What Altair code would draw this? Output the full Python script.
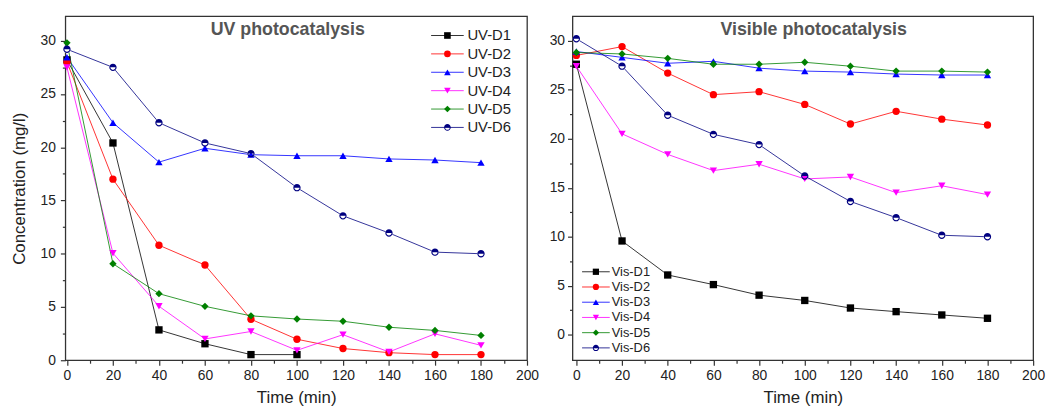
import altair as alt
import pandas as pd

# ---------------- data ----------------
times = [0, 20, 40, 60, 80, 100, 120, 140, 160, 180]

uv_names = ["UV-D1", "UV-D2", "UV-D3", "UV-D4", "UV-D5", "UV-D6"]
uv_d1 = [28.2, 20.4, 2.85, 1.55, 0.53, 0.53]
uv_d2 = [28.0, 17.0, 10.8, 8.94, 3.85, 1.97, 1.1, 0.71, 0.53, 0.53]
uv_d3 = [28.45, 22.3, 18.6, 19.9, 19.3, 19.2, 19.2, 18.9, 18.8, 18.55]
uv_d4 = [27.5, 10.05, 5.07, 2.0, 2.7, 0.93, 2.4, 0.78, 2.48, 1.4]
uv_d5 = [29.8, 9.06, 6.25, 5.06, 4.17, 3.87, 3.66, 3.1, 2.8, 2.33]
uv_d6 = [29.2, 27.5, 22.3, 20.4, 19.4, 16.2, 13.56, 11.95, 10.15, 10.0]

vis_names = ["Vis-D1", "Vis-D2", "Vis-D3", "Vis-D4", "Vis-D5", "Vis-D6"]
vis_d1 = [27.6, 9.57, 6.1, 5.12, 4.04, 3.5, 2.73, 2.36, 2.02, 1.68]
vis_d2 = [28.5, 29.4, 26.7, 24.5, 24.8, 23.5, 21.5, 22.8, 22.0, 21.4]
vis_d3 = [28.9, 28.3, 27.7, 27.9, 27.2, 26.9, 26.8, 26.6, 26.5, 26.5]
vis_d4 = [27.4, 20.5, 18.4, 16.75, 17.4, 15.9, 16.1, 14.5, 15.2, 14.3]
vis_d5 = [28.8, 28.65, 28.2, 27.6, 27.6, 27.8, 27.4, 26.9, 26.9, 26.8]
vis_d6 = [30.2, 27.4, 22.4, 20.45, 19.4, 16.2, 13.6, 11.95, 10.15, 10.0]

x_ticks = [0, 20, 40, 60, 80, 100, 120, 140, 160, 180, 200]
x_minor = [10, 30, 50, 70, 90, 110, 130, 150, 170, 190]
y_ticks = [0, 5, 10, 15, 20, 25, 30]
y_minor = [2.5, 7.5, 12.5, 17.5, 22.5, 27.5]

colors = ["#000000", "#ff0000", "#0000ff", "#ff00ff", "#008000", "#000080"]
half_circle = ("M-1,0A1,1,0,1,1,1,0A1,1,0,1,1,-1,0Z"
               "M-0.7,0A0.7,0.7,0,1,0,0.7,0A0.7,0.7,0,1,0,-0.7,0Z"
               "M-0.7,0A0.7,0.7,0,0,1,0.7,0Z")
shapes = ["square", "circle", "triangle-up", "triangle-down", "diamond", half_circle]


def make_df(names, series):
    rows = []
    for name, vals in zip(names, series):
        for t, v in zip(times, vals):
            rows.append({"time": t, "conc": v, "series": name, "series_l": name})
    return pd.DataFrame(rows)


FONT = "Liberation Sans"


def panel(df, names, title, title_dx, xdom, ydom, ytitle, label_pad, leg, width):
    xs = alt.Scale(domain=xdom, nice=False, zero=False)
    ys = alt.Scale(domain=ydom, nice=False, zero=False)
    x_major = alt.X("time:Q", scale=xs,
                    axis=alt.Axis(values=x_ticks, title="Time (min)", tickSize=5,
                                  labelPadding=3, titlePadding=8, orient="bottom",
                                  labelFlush=False))
    y_major = alt.Y("conc:Q", scale=ys,
                    axis=alt.Axis(values=y_ticks, title=ytitle, tickSize=5,
                                  labelPadding=label_pad, titlePadding=12, orient="left",
                                  labelFlush=False))
    x_none = alt.X("time:Q", scale=xs, axis=None)
    y_none = alt.Y("conc:Q", scale=ys, axis=None)
    base = alt.Chart(df)

    half = leg["len"] / 2.0 / (leg["ss"] ** 0.5 / 2.0)
    line_path = "M-%.3f,0H%.3f" % (half, half)
    lines = base.mark_line(strokeWidth=1, opacity=0.8).encode(
        x=x_major, y=y_major,
        stroke=alt.Stroke("series_l:N", scale=alt.Scale(range=colors),
                          legend=alt.Legend(orient="none", legendX=leg["x"], legendY=leg["y"],
                                            title=None, symbolType=line_path,
                                            symbolSize=leg["ss"], symbolStrokeWidth=1,
                                            labelFont=FONT, labelFontSize=leg["fs"],
                                            labelColor="transparent", labelOffset=leg["lo"],
                                            rowPadding=leg["rp"], padding=0)),
    )
    whites = base.transform_filter(alt.datum.series == names[5]).mark_point(
        filled=True, shape="circle", size=55, opacity=1).encode(
        x=x_none, y=y_none, fill=alt.value("white"))
    shape_leg = alt.Legend(orient="none", legendX=leg["x"], legendY=leg["y"], title=None,
                           symbolSize=leg["ss"], labelFont=FONT, labelFontSize=leg["fs"],
                           labelColor="#222222", labelOffset=leg["lo"], rowPadding=leg["rp"],
                           padding=0)
    points = base.mark_point(filled=True, size=55, opacity=1).encode(
        x=x_none, y=y_none,
        fill=alt.Fill("series:N", scale=alt.Scale(domain=names, range=colors), legend=shape_leg),
        shape=alt.Shape("series:N", scale=alt.Scale(domain=names, range=shapes), legend=shape_leg),
    )
    minor = base.mark_point(opacity=0).encode(
        x=alt.X("time:Q", scale=xs,
                axis=alt.Axis(values=x_minor, orient="bottom", labels=False, domain=False,
                              tickSize=3, title=None)),
        y=alt.Y("conc:Q", scale=ys,
                axis=alt.Axis(values=y_minor, orient="left", labels=False, domain=False,
                              tickSize=3, title=None)),
    )
    return alt.layer(lines, whites, points, minor).resolve_axis(
        x="independent", y="independent").properties(
        width=width, height=348,
        title=alt.TitleParams(text=title, font=FONT, fontSize=18, fontWeight="bold",
                              color="#555555", anchor="middle", offset=-23,
                              baseline="top", dx=title_dx))


left = panel(make_df(uv_names, [uv_d1, uv_d2, uv_d3, uv_d4, uv_d5, uv_d6]), uv_names,
             "UV photocatalysis", -8.5, [-0.7, 200], [0, 32.3], "Concentration (mg/l)", 5,
             {"x": 379, "y": 12, "len": 33, "fs": 15, "lo": 12.7, "rp": 2.6, "ss": 45}, 467)
right = panel(make_df(vis_names, [vis_d1, vis_d2, vis_d3, vis_d4, vis_d5, vis_d6]), vis_names,
              "Visible photocatalysis", 11, [-1.7, 200], [-2.6, 32.5], None, 3,
              {"x": 17.2, "y": 252, "len": 28, "fs": 13, "lo": 9.5, "rp": 1.4, "ss": 40}, 466)

chart = alt.hconcat(left, right, spacing=8).resolve_scale(
    x="independent", y="independent", stroke="independent", fill="independent",
    shape="independent").resolve_legend(
    stroke="independent", fill="independent", shape="independent").properties(
    padding={"left": 1, "top": 5, "right": 0, "bottom": 0}).configure_view(
    stroke="#333333", strokeWidth=1.3).configure_axis(
    labelFont=FONT, labelFontSize=14, labelColor="#222222", titleFont=FONT,
    titleFontSize=17, titleFontWeight="normal", titleColor="#222222", tickColor="#333333",
    tickWidth=1.2, grid=False, domain=False, labelFlush=False)

chart.save("out.html", embed_options={"renderer": "svg", "actions": False})
